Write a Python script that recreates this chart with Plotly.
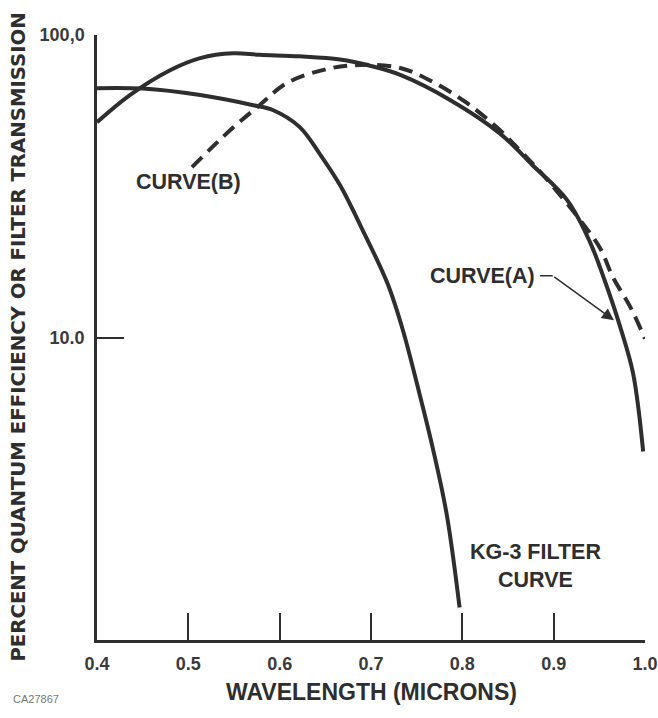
import math
import plotly.graph_objects as go

# Curve (A): solid quantum efficiency
a_wl = [0.400, 0.436, 0.480, 0.513, 0.549, 0.578, 0.622, 0.666, 0.700, 0.732, 0.787, 0.841, 0.877, 0.915, 0.940, 0.956, 0.973, 0.987, 0.998]
a_val = [51.5, 63.3, 76.5, 83.9, 87.0, 86.0, 85.0, 83.0, 79.0, 73.8, 60.9, 47.3, 37.1, 28.4, 20.6, 15.4, 10.8, 7.6, 4.2]

# Curve (B): dashed
b_wl = [0.504, 0.546, 0.578, 0.608, 0.652, 0.688, 0.732, 0.768, 0.805, 0.841, 0.863, 0.890, 0.932, 0.951, 0.965, 0.984, 1.000]
b_val = [36.6, 48.5, 58.6, 69.4, 77.2, 79.6, 77.8, 69.9, 59.6, 48.5, 41.6, 34.0, 23.8, 19.7, 15.8, 12.6, 9.9]

# KG-3 filter curve
kg_wl = [0.400, 0.450, 0.513, 0.571, 0.593, 0.622, 0.644, 0.666, 0.691, 0.718, 0.735, 0.753, 0.768, 0.783, 0.797]
kg_val = [66.7, 66.5, 63.3, 58.6, 56.4, 49.6, 40.4, 31.9, 22.6, 15.1, 10.55, 6.53, 4.26, 2.59, 1.28]

x_ticks = [0.4, 0.5, 0.6, 0.7, 0.8, 0.9, 1.0]
x_tick_text = ["0.4", "0.5", "0.6", "0.7", "0.8", "0.9", "1.0"]
y_ticks = [10, 100]
y_tick_text = ["10.0", "100,0"]

INK = "#2e2e2e"
FONT = "Liberation Sans"

fig = go.Figure()
line_common = dict(color=INK, width=4, shape="spline", smoothing=1.0)
fig.add_trace(go.Scatter(x=a_wl, y=a_val, mode="lines", line=line_common, showlegend=False, hoverinfo="skip"))
fig.add_trace(go.Scatter(x=b_wl, y=b_val, mode="lines", line=dict(line_common, dash="14px,8px"), showlegend=False, hoverinfo="skip"))
fig.add_trace(go.Scatter(x=kg_wl, y=kg_val, mode="lines", line=line_common, showlegend=False, hoverinfo="skip"))

lg = math.log10
ann_font = dict(family=FONT, size=21.5, color=INK)

fig.add_annotation(x=0.5, y=lg(32.6), xref="x", yref="y", text="<b>CURVE(B)</b>", showarrow=False, font=ann_font, xanchor="center", yanchor="middle")
fig.add_annotation(x=0.882, y=lg(16.0), xref="x", yref="y", text="<b>CURVE(A)</b>", showarrow=False, font=ann_font, xanchor="right", yanchor="middle")
fig.add_annotation(x=0.88, y=lg(1.76), xref="x", yref="y", text="<b>KG-3 FILTER<br>CURVE</b>", showarrow=False, font=ann_font, xanchor="center", yanchor="middle", align="center")

# leader line for CURVE(A) (shape coords on log axis are data values)
fig.add_shape(type="line", xref="x", yref="y", x0=0.885, x1=0.899, y0=16.0, y1=16.0, line=dict(color=INK, width=1.5))
fig.add_annotation(x=0.966, y=lg(11.4), xref="x", yref="y", ax=0.899, ay=lg(16.0), axref="x", ayref="y",
                   text="", showarrow=True, arrowhead=2, arrowsize=1.6, arrowwidth=1.5, arrowcolor=INK)

# axis titles and id text
fig.add_annotation(x=-0.144, y=0.5, xref="paper", yref="paper", text="<b>PERCENT QUANTUM EFFICIENCY OR FILTER TRANSMISSION</b>",
                   textangle=-90, showarrow=False, font=dict(family="DejaVu Sans", size=19.7, color=INK), xanchor="center", yanchor="middle")
fig.add_annotation(x=0.5, y=-0.086, xref="paper", yref="paper", text="<b>WAVELENGTH (MICRONS)</b>",
                   showarrow=False, font=dict(family=FONT, size=23, color=INK), xanchor="center", yanchor="middle")
fig.add_annotation(x=-0.111, y=-0.0975, xref="paper", yref="paper", text="CA27867",
                   showarrow=False, font=dict(family=FONT, size=11, color="#777"), xanchor="center", yanchor="middle")

fig.update_xaxes(range=[0.4, 1.0], tickvals=x_ticks, ticktext=[f"<b>{t}</b>" for t in x_tick_text],
                 showline=True, linecolor=INK, linewidth=2.5, ticks="inside", ticklen=27, tickwidth=2,
                 tickcolor=INK, showgrid=False, zeroline=False, ticklabelstandoff=6, automargin=False,
                 tickfont=dict(family=FONT, size=18, color="#3a3a3a"))
fig.update_yaxes(type="log", range=[0, 2], tickvals=y_ticks, ticktext=[f"<b>{t}</b>" for t in y_tick_text],
                 showline=True, linecolor=INK, linewidth=2.5, ticks="inside", ticklen=27, tickwidth=2,
                 tickcolor=INK, showgrid=False, zeroline=False, ticklabelstandoff=6, automargin=False,
                 tickfont=dict(family=FONT, size=18, color="#3a3a3a"))

fig.update_layout(width=658, height=718, margin=dict(l=97, r=13, t=35, b=78, autoexpand=False),
                  paper_bgcolor="white", plot_bgcolor="white", showlegend=False)

# remove the page's default 8px body margin so the figure fills the window exactly; hide the modebar
fig.write_html("out.html", config={"displayModeBar": False},
               post_script="document.body.style.margin='0';document.body.style.overflow='hidden';")
